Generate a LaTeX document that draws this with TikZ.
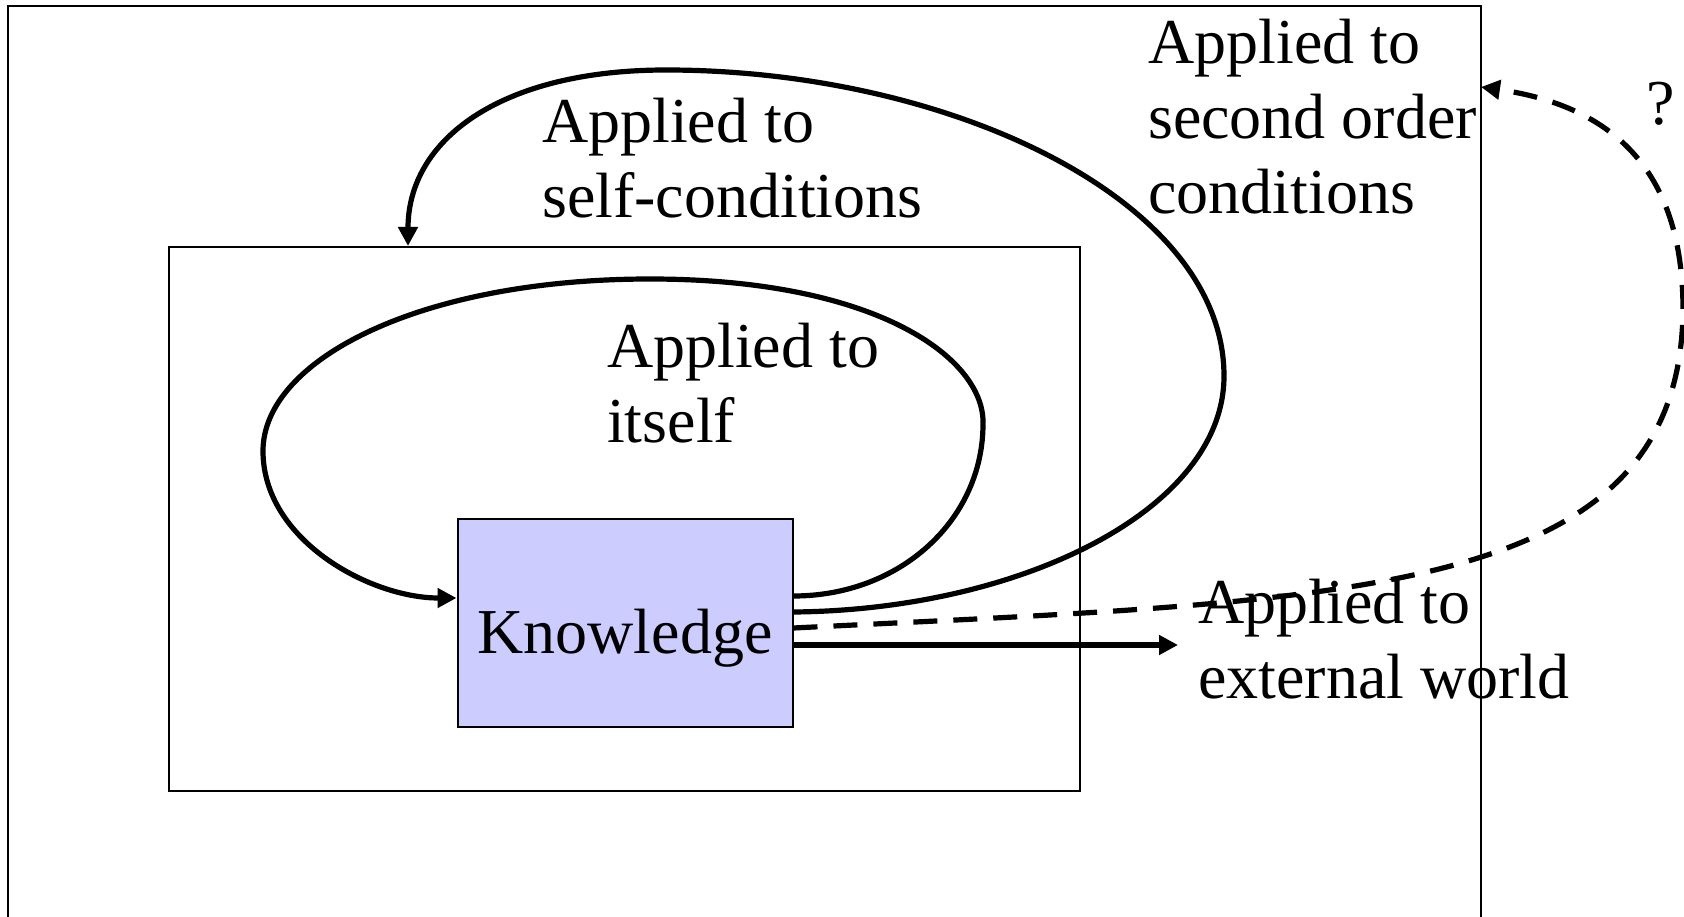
\documentclass[tikz,border=0pt]{standalone}
\usepackage{fontspec}
\setmainfont{Liberation Serif}
\usetikzlibrary{arrows.meta}
\definecolor{kfill}{HTML}{CCCCFF}
\begin{document}
\begin{tikzpicture}[x=1pt,y=-1pt,
  thinbox/.style={draw=black,line width=2pt},
  kbox/.style={draw=black,line width=2pt,fill=kfill,minimum width=335pt,minimum height=208pt,inner sep=0pt},
  lbl/.style={anchor=base west,inner sep=0pt,align=left,font=\fontsize{64}{75}\selectfont},
  flow/.style={line width=5.2pt,-{Triangle[length=19pt,width=19pt]}},
  dflow/.style={flow,dash pattern=on 24pt off 16pt}
]
\useasboundingbox (0,0) rectangle (1684,917);
% outer frame (bottom edge lies outside the picture)
\draw[line width=2pt] (8,925) -- (8,6) -- (1481,6) -- (1481,925);
\node[thinbox,minimum width=911.8pt,minimum height=543.5pt,inner sep=0pt] (inner) at (624.5,518.75) {};
\node[kbox] (K) at (625,622.5) {};
\node[anchor=base,inner sep=0pt,font=\fontsize{64}{75}\selectfont] (ktext) at (625,653) {Knowledge};
\coordinate (secend) at (1481,87);
\coordinate (extend) at (1178,645);
% applied to itself
\draw[flow] ([yshift=26.5pt]K.east) .. controls (900,596) and (983,520) .. (983,424)
  .. controls (985,360) and (880,279) .. (650,279)
  .. controls (420,279) and (263,360) .. (263,451)
  .. controls (263,540) and (370,598) .. ([yshift=24.5pt]K.west);
% applied to self-conditions
\draw[flow] ([yshift=10.5pt]K.east) .. controls (1020,610) and (1224,510) .. (1224,376)
  .. controls (1224,200) and (950,70) .. (666,70)
  .. controls (500,70) and (408,140) .. ([xshift=-216.5pt]inner.north);
% applied to second order conditions
\draw[dflow] ([yshift=-5.5pt]K.east) .. controls (1350,600) and (1680,600) .. (1683,310)
  .. controls (1683,200) and (1640,110) .. (secend);
% applied to external world
\draw[flow] ([yshift=-22.5pt]K.east) -- (extend);
\node[lbl] (tself) at (542,218) {Applied to\\self-conditions};
\node[lbl] (titself) at (607,442) {Applied to\\itself};
\node[lbl] (tsecond) at (1148,214) {Applied to\\second order\\conditions};
\node[lbl] (text) at (1198,698) {Applied to\\external world};
\node[lbl] (tq) at (1646,125) {?};
\end{tikzpicture}
\end{document}
